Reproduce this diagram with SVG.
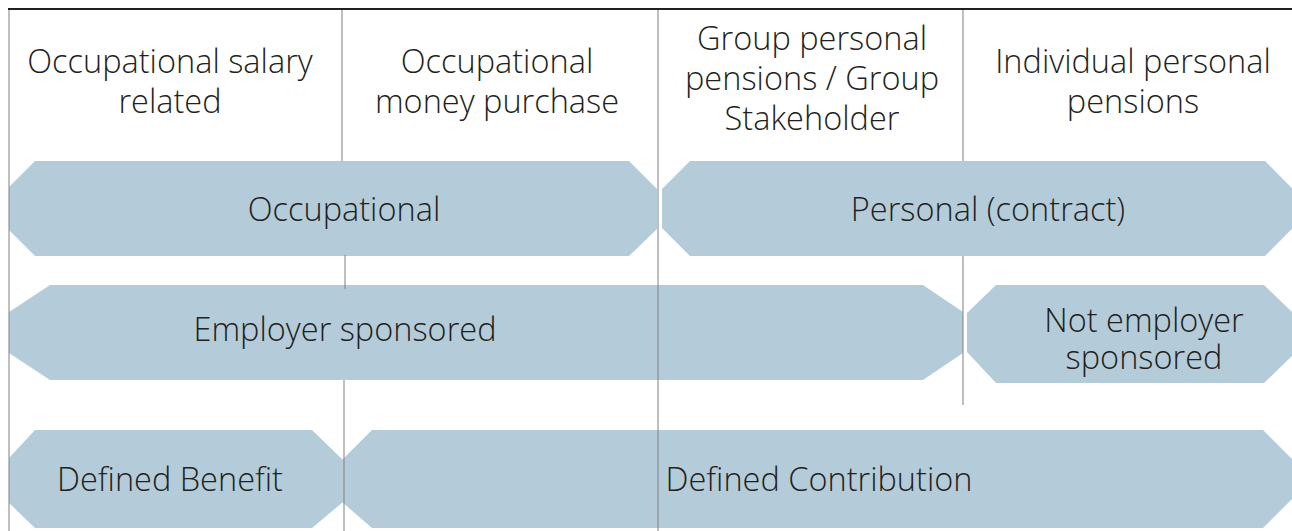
<svg xmlns="http://www.w3.org/2000/svg" width="1292" height="531" viewBox="0 0 1292 531">
  <style>
    .band { fill: #b4ccd9; }
    .label { font-family: "Open Sans", "Noto Sans", "DejaVu Sans", sans-serif; font-size: 32.5px; font-weight: 300; fill: #231f20; text-anchor: middle; }
    .grid { stroke: #808080; stroke-opacity: 0.5; stroke-width: 2; fill: none; }
  </style>
  <rect width="1292" height="531" fill="#ffffff"/>

  <!-- column headers -->
  <g id="col-salary-related">
    <text class="label" x="170" y="73">Occupational salary</text>
    <text class="label" x="170" y="113">related</text>
  </g>
  <g id="col-money-purchase">
    <text class="label" x="497" y="73">Occupational</text>
    <text class="label" x="497" y="113">money purchase</text>
  </g>
  <g id="col-group-personal">
    <text class="label" x="812" y="50">Group personal</text>
    <text class="label" x="812" y="90">pensions / Group</text>
    <text class="label" x="812" y="130">Stakeholder</text>
  </g>
  <g id="col-individual">
    <text class="label" x="1133" y="73">Individual personal</text>
    <text class="label" x="1133" y="113">pensions</text>
  </g>

  <!-- row 1 -->
  <g id="band-occupational">
    <polygon class="band" points="35,161 629,161 657,189 657,229 629,256 35,256 9,230 9,187"/>
    <text class="label" x="344" y="221">Occupational</text>
  </g>
  <g id="band-personal">
    <polygon class="band" points="690,161 1265,161 1312,208.5 1265,256 690,256 662,228 662,189"/>
    <text class="label" x="988" y="221">Personal (contract)</text>
  </g>

  <!-- row 2 -->
  <g id="band-employer">
    <polygon class="band" points="50,285 923,285 963,312 963,353 923,380 50,380 9,353 9,312"/>
    <text class="label" x="345" y="341">Employer sponsored</text>
  </g>
  <g id="band-not-employer">
    <polygon class="band" points="996,285 1264,285 1292,312 1292,356 1264,383 996,383 967,352 967,313"/>
    <text class="label" x="1144" y="332">Not employer</text>
    <text class="label" x="1144" y="369">sponsored</text>
  </g>

  <!-- row 3 -->
  <g id="band-defined-benefit">
    <polygon class="band" points="35,430 312,430 343,460 343,502 312,528 35,528 9,503 9,458"/>
    <text class="label" x="170" y="491">Defined Benefit</text>
  </g>
  <g id="band-defined-contribution">
    <polygon class="band" points="372,430 1263,430 1312,479 1263,528 372,528 342,502 342,460"/>
    <text class="label" x="819" y="491">Defined Contribution</text>
  </g>

  <!-- rules -->
  <g id="connectors">
    <line class="grid" x1="9" y1="9" x2="9" y2="531"/>
    <line class="grid" x1="342" y1="9" x2="342" y2="161"/>
    <line class="grid" x1="345" y1="255" x2="345" y2="289"/>
    <line class="grid" x1="344" y1="380" x2="344" y2="531"/>
    <line class="grid" x1="658" y1="9" x2="658" y2="531"/>
    <line class="grid" x1="963" y1="9" x2="963" y2="161"/>
    <line class="grid" x1="963" y1="256" x2="963" y2="405"/>
    <line x1="8" y1="9" x2="1292" y2="9" stroke="#231f20" stroke-width="2"/>
  </g>
</svg>
